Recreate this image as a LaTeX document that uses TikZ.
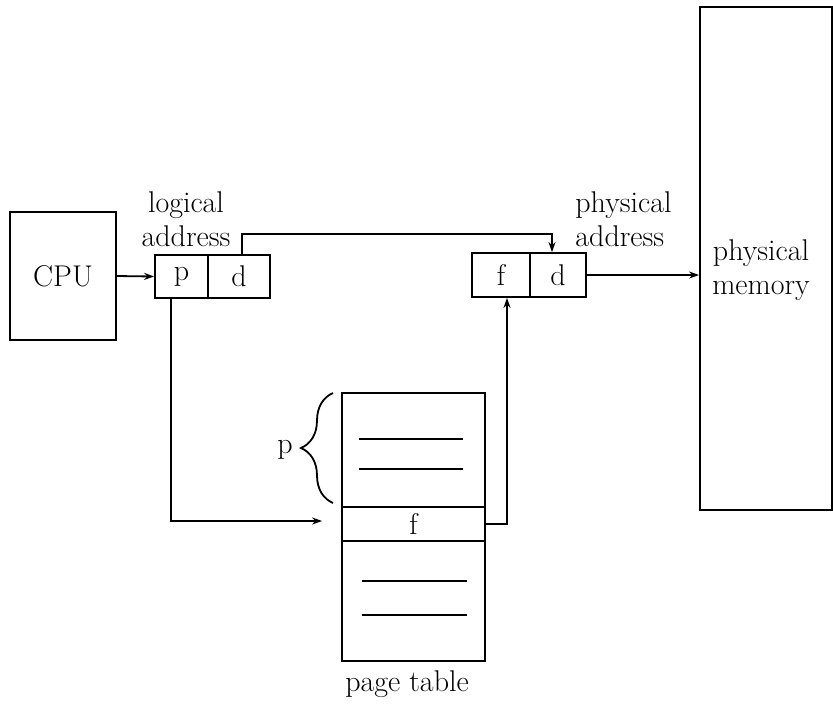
\documentclass[tikz,border=0pt]{standalone}
\usetikzlibrary{arrows.meta,decorations.pathreplacing}
\begin{document}
\begin{tikzpicture}[x=0.5pt,y=-0.5pt,
  every node/.style={font=\fontsize{15}{17}\selectfont},
  box/.style={draw, line width=0.9pt, inner sep=0pt},
  lbl/.style={inner sep=0pt, align=center},
  conn/.style={line width=0.9pt},
  arr/.style={conn, -{Stealth[length=5pt,width=3.5pt]}},
  rule/.style={line width=0.9pt}]
\useasboundingbox (0,0) rectangle (833,709);
% CPU
\node[box, minimum width=53pt, minimum height=64pt] (cpu) at (63,276) {CPU};
% logical address
\node[box, minimum width=26.5pt, minimum height=21.5pt] (lp) at (181.5,276.5) {p};
\node[box, minimum width=31pt, minimum height=21.5pt] (ld) at (239,276.5) {d};
\node[lbl] (llab) at (186,219) {logical\\address};
% physical address
\node[box, minimum width=29pt, minimum height=22pt] (pf) at (501,275) {f};
\node[box, minimum width=28pt, minimum height=22pt] (pd) at (558,275) {d};
\node[lbl, align=left, anchor=west] (plab) at (575,219) {physical\\address};
% physical memory
\node[box, minimum width=66pt, minimum height=251.5pt] (pm) at (766,258.5) {};
\node[lbl] (pmlab) at (761,270) {physical\\memory};
% page table
\node[box, minimum width=71.5pt, minimum height=57pt] (ptu) at (413.5,450) {};
\node[box, minimum width=71.5pt, minimum height=17pt] (fr) at (413.5,524) {f};
\node[box, minimum width=71.5pt, minimum height=60pt] (ptl) at (413.5,601) {};
\node[lbl] (ptlab) at (407,684) {page table};
\draw[rule] (359,439) -- (463,439);
\draw[rule] (359,469) -- (463,469);
\draw[rule] (362,581) -- (467,581);
\draw[rule] (362,615) -- (467,615);
% brace
\draw[conn, decorate, decoration={brace, amplitude=16pt}] (333,503) -- (333,393);
\node[lbl] (plbl) at (285,450) {p};
% connectors
\draw[arr] (cpu.east) -- (lp.west);
\draw[arr] ([xshift=1.5pt]ld.north) -- ++(0,10pt) -| ([xshift=-3pt]pd.north);
\draw[arr] (pd.east) -- (pd.east -| pm.west);
\draw[arr] ([xshift=-5.25pt]lp.south) |- ([xshift=-9.5pt,yshift=1.5pt]fr.west);
\draw[arr] (fr.east) -| ([xshift=3pt]pf.south);
\end{tikzpicture}
\end{document}
